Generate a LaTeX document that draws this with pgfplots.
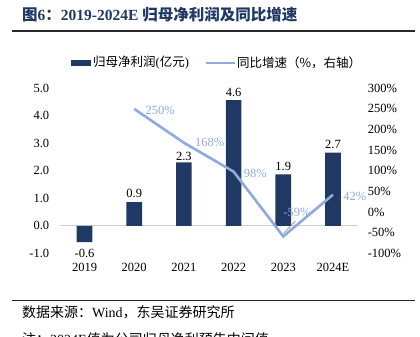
\documentclass[border=0pt]{standalone}
\usepackage{fontspec}
\setmainfont{Liberation Serif}
\newfontfamily\cjk{Noto Sans CJK SC}
\usepackage{pgfplots}
\pgfplotsset{compat=1.18}
\usepackage{pgfplotstable}
\definecolor{navy}{RGB}{31,56,100}
\definecolor{lblue}{RGB}{143,170,220}
\definecolor{zgray}{RGB}{205,205,205}
\definecolor{rulec}{RGB}{40,40,40}
\pgfplotsset{/pgf/number format/assume math mode=true}

\pgfplotstableread{
x y dy
0 -0.59 -4
1 0.86 1
2 2.31 -2
3 4.57 0
4 1.87 0
5 2.66 0
}\profit

\pgfplotstableread{
x y dx dy
1 250 10 -1.5
2 168 10 0
3 98 9 -1.5
4 -59 -1 24
5 42 9 -1.5
}\growth

\begin{document}
\begin{tikzpicture}
\useasboundingbox (0pt,0pt) rectangle (420pt,337pt);
\clip (0pt,0pt) rectangle (420pt,337pt);
% title
\node[anchor=base west, inner sep=0pt, text=navy] at (22pt,316pt)
  {\fontsize{15.5}{18}\selectfont\bfseries{\cjk 图}6{\cjk ：}2019-2024E {\cjk 归母净利润及同比增速}};
\draw[rulec, line width=1.3pt] (12pt,306pt) -- (415pt,306pt);
% legend
\fill[navy] (71pt,271pt) rectangle (91pt,277pt);
\node[anchor=west, inner sep=0pt] at (93pt,274pt)
  {\fontsize{12.5}{14}\selectfont{\cjk 归母净利润}({\cjk 亿元})};
\draw[lblue, line width=2.6pt] (206pt,274pt) -- (235pt,274pt);
\node[anchor=west, inner sep=0pt] at (237pt,274pt)
  {\fontsize{12.5}{14}\selectfont\cjk 同比增速（\%，右轴）};

\begin{axis}[
  at={(59.7pt,83.7pt)}, anchor=south west,
  scale only axis, width=298.1pt, height=165pt,
  xmin=-0.5, xmax=5.5, ymin=-1, ymax=5,
  ytick={-1,0,1,2,3,4,5},
  xtick={0,1,2,3,4,5}, xticklabels={2019,2020,2021,2022,2023,2024E},
  axis line style={draw=none}, major tick length=0pt,
  tick label style={font=\fontsize{12.5}{14}\selectfont},
  yticklabel style={/pgf/number format/fixed, /pgf/number format/fixed zerofill, /pgf/number format/precision=1, xshift=-7pt},
  xticklabel style={yshift=-6pt},
  clip=false,
]
\draw[zgray, line width=1pt] (axis cs:-0.5,0) -- (axis cs:5.5,0);
\addplot[ybar, bar width=0.314, fill=navy, draw=none,
  nodes near coords, nodes near coords align={vertical}, point meta=y,
  visualization depends on={\thisrow{dy} \as \bdy},
  every node near coord/.append style={font=\fontsize{12.5}{14}\selectfont, text=black, yshift=\bdy pt,
    /pgf/number format/fixed, /pgf/number format/fixed zerofill, /pgf/number format/precision=1}]
  table[x=x,y=y] {\profit};
\end{axis}

\begin{axis}[
  at={(59.7pt,83.7pt)}, anchor=south west,
  scale only axis, width=298.1pt, height=165pt,
  xmin=-0.5, xmax=5.5, ymin=-100, ymax=300,
  ytick={-100,-50,0,50,100,150,200,250,300},
  axis y line*=right, axis x line=none,
  axis line style={draw=none}, major tick length=0pt,
  tick label style={font=\fontsize{12.5}{14}\selectfont},
  yticklabel={\pgfmathprintnumber[fixed,precision=0]{\tick}\%},
  yticklabel style={xshift=6.5pt},
  clip=false,
]
\draw[gray, line width=0.6pt] (axis cs:4.01,-51) -- (axis cs:4.24,-22);
\addplot[lblue, line width=2.6pt, mark=none,
  nodes near coords={\pgfmathprintnumber[fixed,precision=0]{\pgfplotspointmeta}\%},
  point meta=y,
  visualization depends on={\thisrow{dx} \as \dx},
  visualization depends on={\thisrow{dy} \as \dy},
  every node near coord/.append style={font=\fontsize{12.5}{14}\selectfont, text=lblue,
    anchor=west, inner sep=0pt, xshift=\dx pt, yshift=\dy pt}]
  table[x=x,y=y] {\growth};
\end{axis}

% source
\draw[rulec, line width=1.3pt] (12pt,36.3pt) -- (415pt,36.3pt);
\node[anchor=base west, inner sep=0pt] at (22pt,19pt)
  {\fontsize{14}{16}\selectfont{\cjk 数据来源：}Wind{\cjk ，东吴证券研究所}};
\node[anchor=base west, inner sep=0pt] at (22pt,-8pt)
  {\fontsize{14}{16}\selectfont{\cjk 注：}2024E{\cjk 值为公司归母净利预告中间值}};
\end{tikzpicture}
\end{document}
